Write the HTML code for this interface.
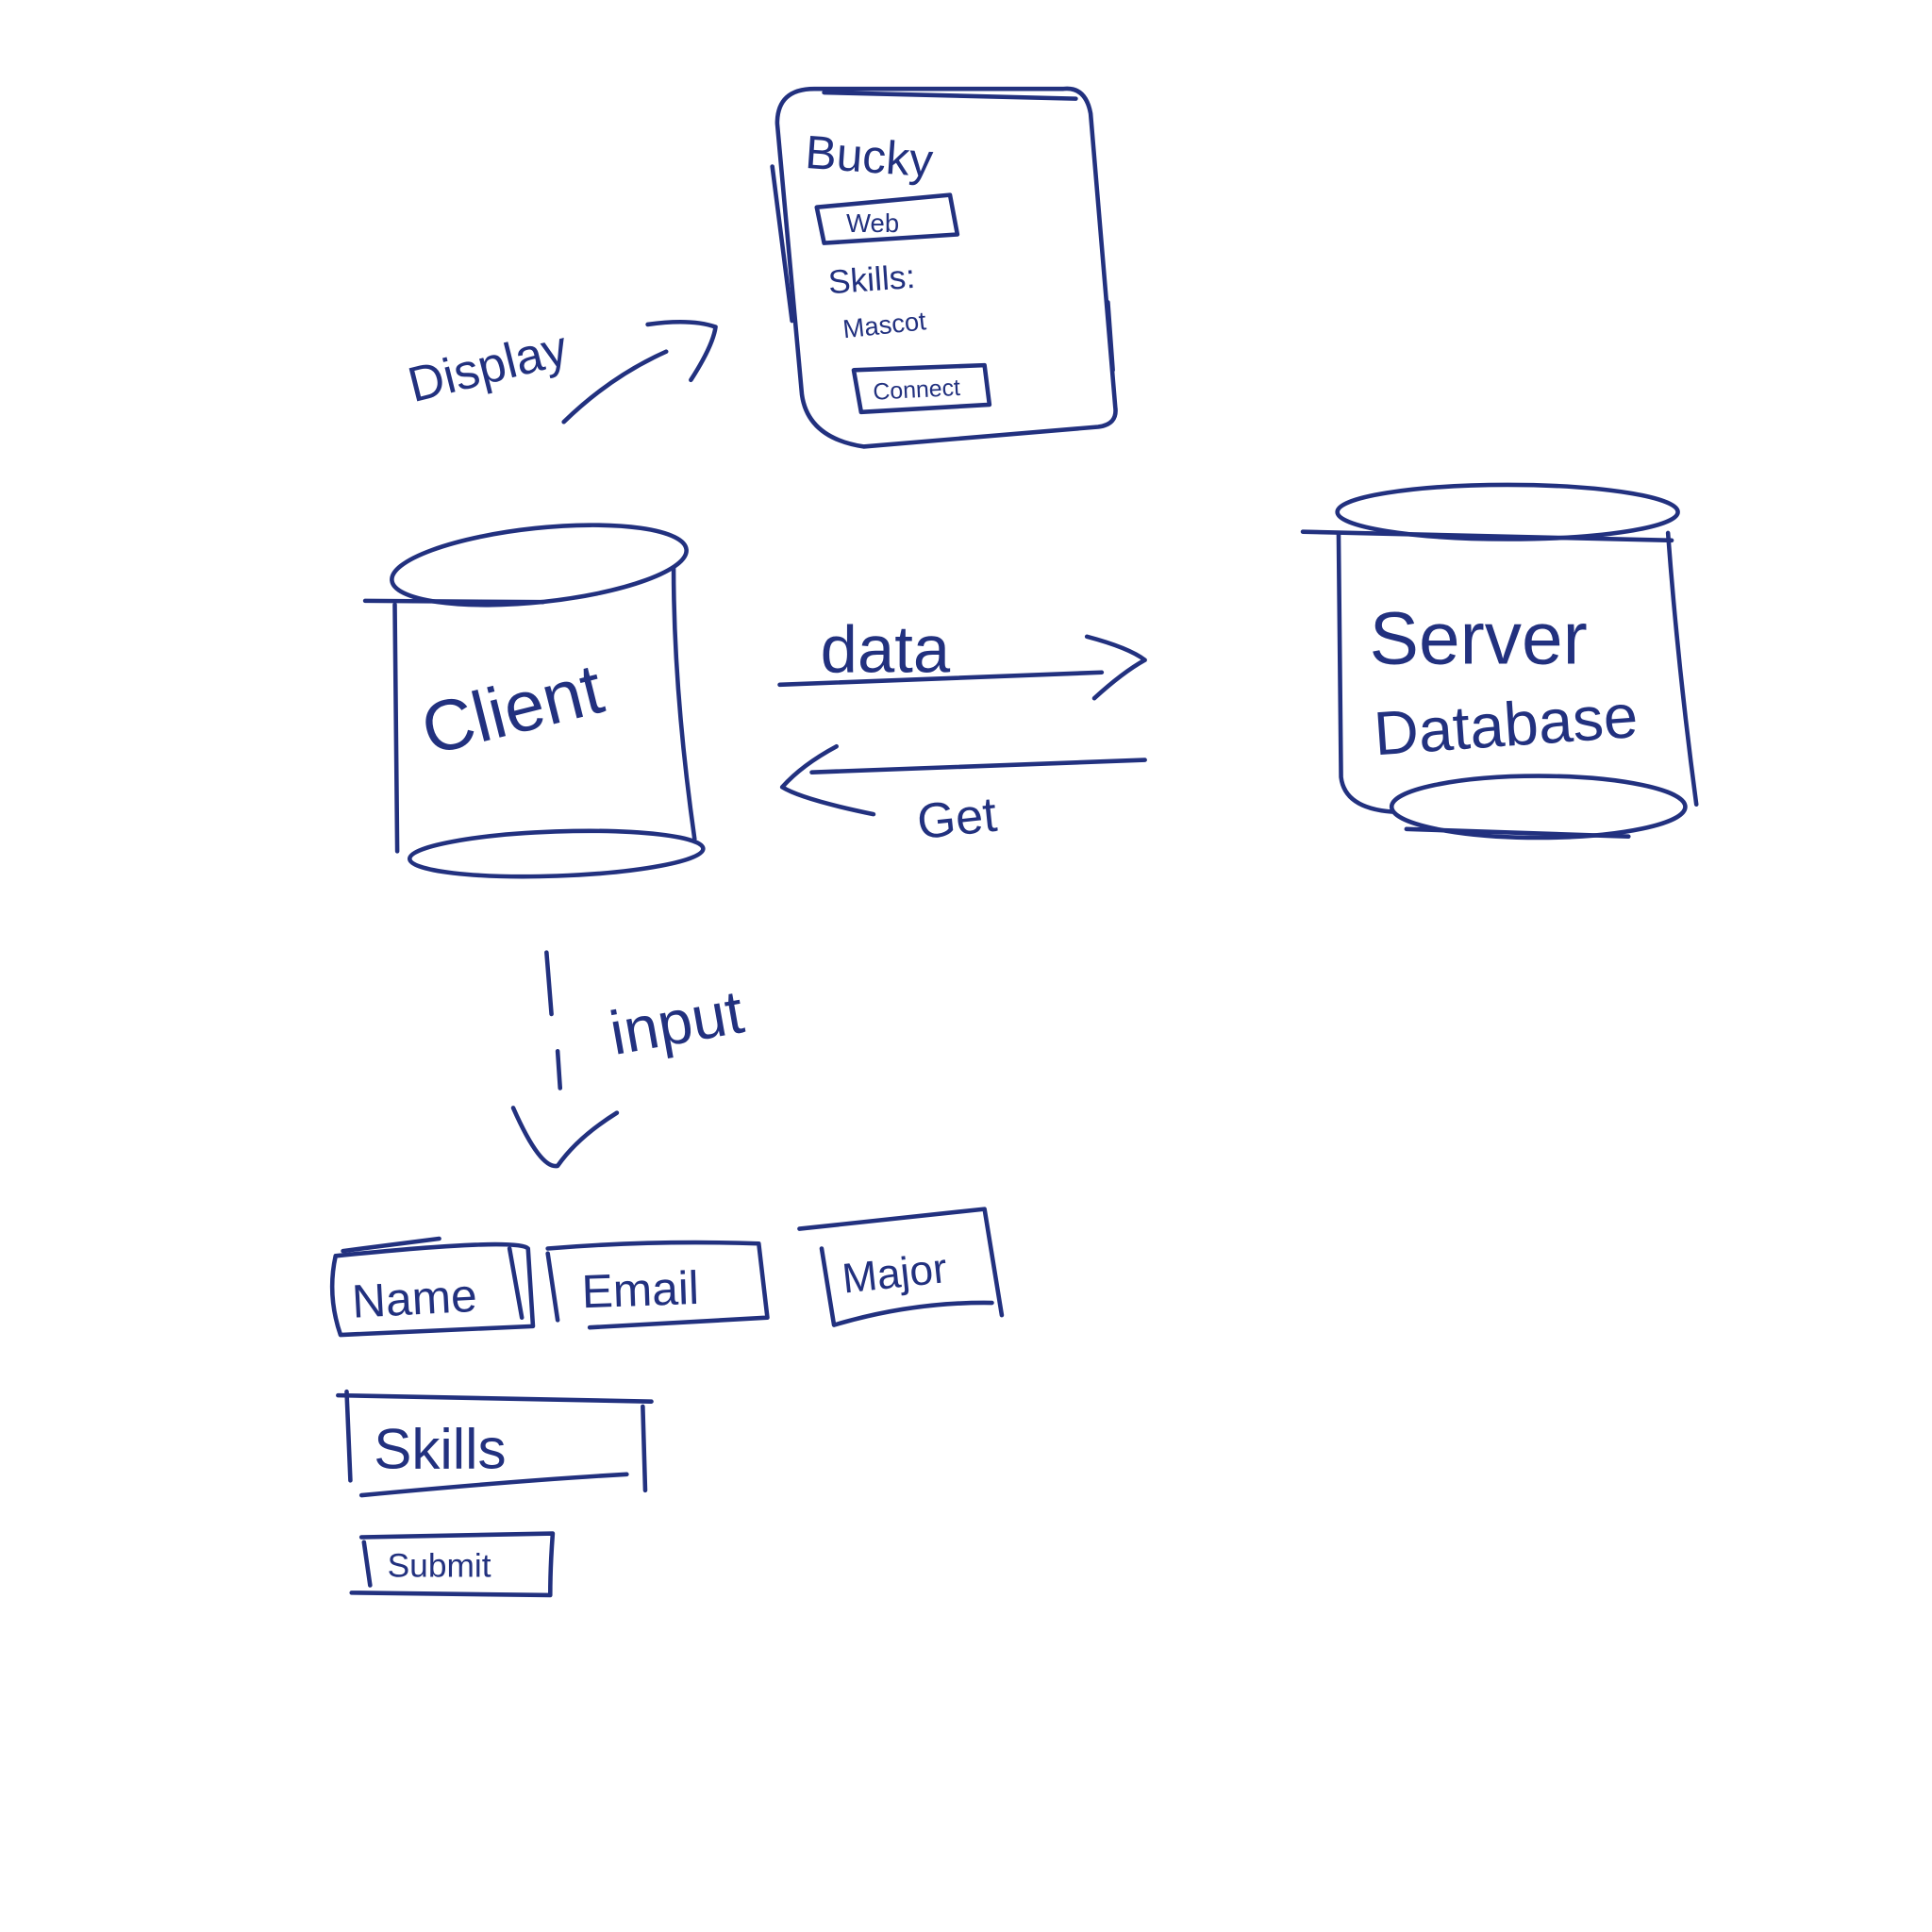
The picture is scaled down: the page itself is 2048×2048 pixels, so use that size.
<!DOCTYPE html>
<html><head><meta charset="utf-8"><style>
html,body{margin:0;padding:0;background:#fff;}
svg{display:block;}
text{font-family:"Liberation Sans",sans-serif;fill:#22317f;}
</style></head><body>
<svg width="2048" height="2048" viewBox="0 0 1566 1566" xmlns="http://www.w3.org/2000/svg">
<rect width="1566" height="1566" fill="#fff"/>
<g fill="none" stroke="#22317f" stroke-width="3.5" stroke-linecap="round" stroke-linejoin="round">
<path d="M660 72 Q630 72 630 100 L650 320 Q655 355 700 362 L890 346 Q906 344 904 330 L884 92 Q880 70 862 72 Z"/>
<path d="M626 135 L642 260"/>
<path d="M668 75 L872 80"/>
<path d="M898 245 L902 300"/>
<path d="M662 168 L770 158 L776 190 L668 197 Z"/>
<path d="M692 300 L798 296 L802 328 L698 334 Z"/>
<path d="M457 342 Q495 305 540 285"/>
<path d="M525 263 Q560 258 580 265 Q578 280 560 308"/>
<ellipse cx="437" cy="458" rx="120" ry="30" transform="rotate(-6 437 458)"/>
<path d="M296 487 L440 488"/>
<path d="M320 490 L322 690"/>
<path d="M546 460 Q546 560 563 680"/>
<ellipse cx="451" cy="692" rx="119" ry="18" transform="rotate(-2 451 692)"/>
<path d="M632 555 L893 545"/>
<path d="M881 516 Q915 525 928 535 Q910 545 887 566"/>
<path d="M928 616 L658 626"/>
<path d="M678 605 Q650 620 634 638 Q650 648 708 660"/>
<ellipse cx="1222" cy="415" rx="138" ry="22"/>
<path d="M1056 431 L1355 438"/>
<path d="M1085 432 L1087 630 Q1090 655 1128 658"/>
<path d="M1352 432 Q1360 540 1375 652"/>
<ellipse cx="1247" cy="654" rx="119" ry="25"/>
<path d="M1140 672 L1320 678"/>
<path d="M443 772 L447 822"/>
<path d="M452 852 L454 882"/>
<path d="M416 898 Q438 948 452 945 Q468 922 500 902"/>
<path d="M272 1018 Q420 1003 428 1012 L432 1075 L276 1082 Q265 1050 272 1018 Z"/>
<path d="M278 1014 L356 1004"/>
<path d="M413 1012 L423 1068"/>
<path d="M444 1012 Q530 1005 615 1008 L622 1068 L478 1076"/>
<path d="M444 1016 L452 1070"/>
<path d="M648 996 L798 980 L812 1066"/>
<path d="M666 1012 L676 1074 Q740 1055 804 1056"/>
<path d="M274 1131 L528 1136"/>
<path d="M281 1128 L284 1200"/>
<path d="M521 1140 L523 1208"/>
<path d="M293 1212 Q420 1200 508 1195"/>
<path d="M293 1246 L448 1243 Q446 1270 446 1293 L285 1291"/>
<path d="M295 1250 L300 1285"/>
</g>
<g stroke="none">
<text x="652" y="136" font-size="38" transform="rotate(4 652 136)">Bucky</text>
<text x="686" y="188" font-size="21">Web</text>
<text x="672" y="238" font-size="27" transform="rotate(-4 672 238)">Skills:</text>
<text x="684" y="274" font-size="21" transform="rotate(-6 684 274)">Mascot</text>
<text x="708" y="324" font-size="19" transform="rotate(-3 708 324)">Connect</text>
<text x="335" y="326" font-size="40" transform="rotate(-14 335 326)">Display</text>
<text x="348" y="612" font-size="58" transform="rotate(-14 348 612)">Client</text>
<text x="665" y="545" font-size="54">data</text>
<text x="745" y="680" font-size="40" transform="rotate(-6 745 680)">Get</text>
<text x="1110" y="538" font-size="60">Server</text>
<text x="1115" y="612" font-size="50" transform="rotate(-4 1115 612)">Database</text>
<text x="498" y="855" font-size="50" transform="rotate(-10 498 855)">input</text>
<text x="286" y="1068" font-size="38" transform="rotate(-3 286 1068)">Name</text>
<text x="472" y="1060" font-size="38" transform="rotate(-2 472 1060)">Email</text>
<text x="684" y="1048" font-size="34" transform="rotate(-6 684 1048)">Major</text>
<text x="303" y="1190" font-size="46">Skills</text>
<text x="314" y="1278" font-size="27">Submit</text>
</g>
</svg>
</body></html>
